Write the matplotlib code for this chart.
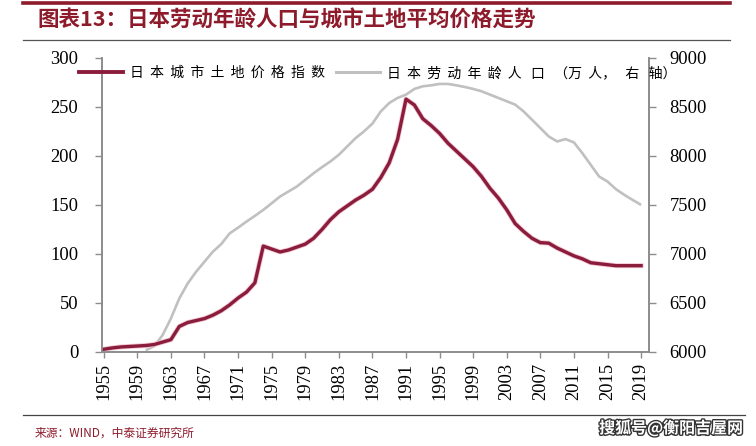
import numpy as np
import matplotlib
matplotlib.use("Agg")
import matplotlib.pyplot as plt
from matplotlib.lines import Line2D
import matplotlib.patheffects as pe

CJK = ["Noto Sans CJK SC", "DejaVu Sans"]
plt.rcParams["font.family"] = ["Liberation Serif"]

RED = "#8a1c3c"; PINK = "#f3c6d2"; GRAY = "#c0c0c0"
TITLE_RED = "#8e1b2b"; SPINE = "#8c8c8c"

# ---------------- data ----------------
years = np.arange(1955, 2020)
land_index = [2.7, 4, 5, 5.5, 6, 6.5, 7.5, 10, 12.5, 26,
              30, 32, 34, 37.5, 42, 48, 55, 61, 70.5, 108,
              105, 102, 104, 107, 110, 116, 125, 135, 143, 149,
              155, 160, 166, 178, 193, 217, 258, 252, 238, 231,
              223, 213, 205, 197, 189, 179, 167, 157, 145, 131,
              123, 116, 111.5, 111, 106, 102, 98, 95, 91, 90,
              89, 88, 88, 88, 88]
labor_years = np.arange(1960, 2020)
labor_pop = [6017, 6058, 6170, 6341, 6546, 6699, 6818, 6921, 7023, 7101,
             7210, 7268, 7330, 7388, 7449, 7517, 7586, 7637, 7688, 7756,
             7824, 7886, 7944, 8012, 8097, 8182, 8251, 8330, 8455, 8540,
             8592, 8626, 8684, 8711, 8721, 8735, 8735, 8721, 8704, 8684,
             8660, 8626, 8592, 8558, 8524, 8455, 8370, 8285, 8199, 8148,
             8172, 8138, 8029, 7910, 7790, 7739, 7661, 7603, 7551, 7500]
xticks = np.arange(1955, 2020, 4)

fig = plt.figure(figsize=(7.56, 4.46), dpi=100)
ax = fig.add_axes([0.135, 0.211, 0.723, 0.659])
ax2 = ax.twinx()

ax2.plot(labor_years, labor_pop, color=GRAY, lw=1.9, solid_capstyle="butt")
ax.plot(years, land_index, color=PINK, lw=3.6, solid_joinstyle="round")
ax.plot(years, land_index, color=RED, lw=2.4, solid_joinstyle="round")
ax.set_zorder(ax2.get_zorder() + 1); ax.patch.set_visible(False)

ax.set_xlim(1954.8, 2019.9)
ax.set_ylim(0, 300)
ax2.set_ylim(6000, 9000)
ax.set_xticks(xticks)
ax.set_xticklabels([str(y) for y in xticks], rotation=90)
ax.set_yticks(np.arange(0, 301, 50))
ax2.set_yticks(np.arange(6000, 9001, 500))

for a in (ax, ax2):
    a.spines["top"].set_visible(False)
    for s in ("left", "right", "bottom"):
        a.spines[s].set_color(SPINE); a.spines[s].set_linewidth(1.2)
ax.tick_params(axis="x", length=4, width=1, color=SPINE, pad=4, labelsize=13.3)
ax.tick_params(axis="y", length=5, width=1, color=SPINE, pad=12, labelsize=13.3)
ax2.tick_params(axis="y", length=5, width=1, color=SPINE, pad=10, labelsize=13.3)

# ---------------- legend ----------------
handles = [Line2D([0], [0], color=RED, lw=2.8),
           Line2D([0], [0], color=GRAY, lw=2.2)]
labels = ["  ".join("日本城市土地价格指数"),
          "日  本  劳  动  年  龄  人   口   （万  人，   右   轴）"]
leg = fig.legend(handles, labels, loc="center left",
                 bbox_to_anchor=(0.1045, 0.836), ncol=2, frameon=False,
                 borderpad=0, borderaxespad=0, handlelength=3.2,
                 handletextpad=0.5, columnspacing=0.75,
                 prop={"family": CJK, "size": 10})
leg.set_zorder(10)

# ---------------- title, rules, source ----------------
fig.add_artist(Line2D([0.03, 0.966], [0.994, 0.994], color=TITLE_RED, lw=2.6))
fig.add_artist(Line2D([0.03, 0.966], [0.91, 0.91], color="#555555", lw=0.9))
fig.add_artist(Line2D([0.03, 0.985], [0.07, 0.07], color="#444444", lw=0.9))
fig.text(0.049, 0.955, "图表13：日本劳动年龄人口与城市土地平均价格走势",
         family=CJK, fontsize=15.5, fontweight="bold", color=TITLE_RED,
         ha="left", va="center")
fig.text(0.046, 0.029, "来源：WIND，中泰证券研究所", family=CJK, fontsize=8.5,
         color=TITLE_RED, ha="left", va="center")
fig.text(0.983, 0.04, "搜狐号@衡阳吉屋网", family=CJK, fontsize=11.5,
         fontweight="bold", color="white", ha="right", va="center",
         path_effects=[pe.withStroke(linewidth=2, foreground="#333333")])

fig.savefig("out.png", dpi=100, facecolor="white")
